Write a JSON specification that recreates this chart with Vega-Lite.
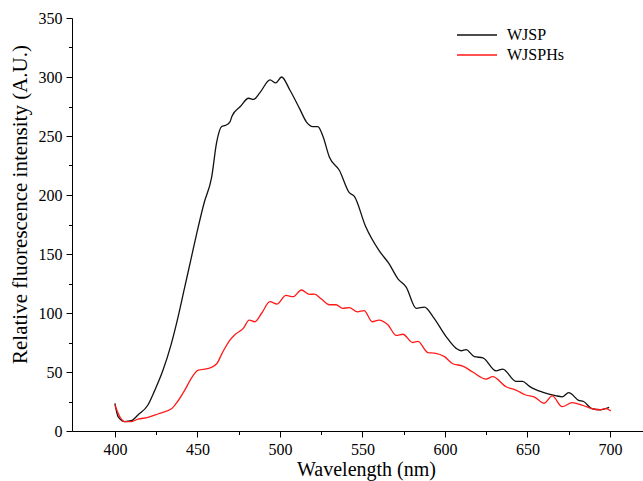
{
  "$schema": "https://vega.github.io/schema/vega-lite/v6.json",
  "width": 571,
  "height": 413,
  "autosize": "none",
  "padding": {"left": 72, "top": 18, "right": 0, "bottom": 50},
  "background": "white",
  "config": {"view": {"stroke": null}, "font": "Liberation Serif"},
  "datasets": {
    "wjsp": [
      {"w": 400, "v": 23.5}, {"w": 402, "v": 12}, {"w": 406, "v": 8}, {"w": 410, "v": 8.7}, {"w": 414, "v": 13.6},
      {"w": 420, "v": 22}, {"w": 424, "v": 34}, {"w": 429, "v": 51}, {"w": 434, "v": 73}, {"w": 438, "v": 95},
      {"w": 442, "v": 120}, {"w": 446, "v": 145}, {"w": 450, "v": 170}, {"w": 454, "v": 193}, {"w": 458.6, "v": 215},
      {"w": 461.7, "v": 245}, {"w": 464.7, "v": 258}, {"w": 467, "v": 259}, {"w": 469.7, "v": 262}, {"w": 471, "v": 267},
      {"w": 476, "v": 275}, {"w": 481, "v": 282}, {"w": 484, "v": 281}, {"w": 488, "v": 287}, {"w": 494, "v": 297.5},
      {"w": 497.5, "v": 295}, {"w": 501, "v": 300}, {"w": 506, "v": 289}, {"w": 512, "v": 273}, {"w": 516, "v": 262},
      {"w": 520, "v": 258}, {"w": 523, "v": 258}, {"w": 526, "v": 250}, {"w": 530, "v": 232}, {"w": 536, "v": 221},
      {"w": 542, "v": 202}, {"w": 545, "v": 199}, {"w": 552, "v": 173}, {"w": 560, "v": 153}, {"w": 566, "v": 142},
      {"w": 571.5, "v": 129}, {"w": 576.5, "v": 122}, {"w": 582.6, "v": 104}, {"w": 587.6, "v": 105}, {"w": 592.7, "v": 97},
      {"w": 600.7, "v": 80}, {"w": 606.8, "v": 70}, {"w": 609.8, "v": 68}, {"w": 612.8, "v": 69}, {"w": 617.8, "v": 63},
      {"w": 623, "v": 62}, {"w": 631, "v": 51}, {"w": 635, "v": 52.5}, {"w": 643, "v": 42}, {"w": 647, "v": 42},
      {"w": 651, "v": 38}, {"w": 655, "v": 35}, {"w": 659, "v": 33}, {"w": 667, "v": 30}, {"w": 671, "v": 29},
      {"w": 675, "v": 32.5}, {"w": 681, "v": 26}, {"w": 684, "v": 25}, {"w": 689, "v": 19}, {"w": 694, "v": 18},
      {"w": 699.5, "v": 20}
    ],
    "wjsphs": [
      {"w": 400, "v": 22}, {"w": 403, "v": 12}, {"w": 406, "v": 8}, {"w": 410, "v": 8}, {"w": 414, "v": 10},
      {"w": 420, "v": 11.5}, {"w": 426, "v": 14.4}, {"w": 434.5, "v": 19}, {"w": 438, "v": 25}, {"w": 442.5, "v": 35},
      {"w": 446, "v": 44}, {"w": 450.5, "v": 51.5}, {"w": 456.6, "v": 53}, {"w": 461.7, "v": 57}, {"w": 465, "v": 66},
      {"w": 469.7, "v": 77}, {"w": 473, "v": 82}, {"w": 477.8, "v": 87}, {"w": 481.4, "v": 94}, {"w": 484.8, "v": 92.6},
      {"w": 489, "v": 100}, {"w": 493.9, "v": 109.6}, {"w": 498.3, "v": 107.6}, {"w": 503.6, "v": 115}, {"w": 508, "v": 113.8},
      {"w": 513, "v": 119.5}, {"w": 518, "v": 115.8}, {"w": 521, "v": 116}, {"w": 525, "v": 112}, {"w": 530, "v": 107},
      {"w": 534, "v": 107}, {"w": 538, "v": 104}, {"w": 542, "v": 104.5}, {"w": 547, "v": 101}, {"w": 551, "v": 102},
      {"w": 556, "v": 92.6}, {"w": 560, "v": 94}, {"w": 565.4, "v": 90}, {"w": 570.5, "v": 81}, {"w": 574.5, "v": 82},
      {"w": 580.5, "v": 75}, {"w": 583.6, "v": 76}, {"w": 589.6, "v": 66.5}, {"w": 593.7, "v": 66}, {"w": 599.7, "v": 63},
      {"w": 604.7, "v": 57}, {"w": 610.8, "v": 55}, {"w": 616.8, "v": 50}, {"w": 624.9, "v": 44}, {"w": 628.9, "v": 46},
      {"w": 637, "v": 37.5}, {"w": 643, "v": 34.7}, {"w": 649, "v": 30.5}, {"w": 654, "v": 29}, {"w": 660, "v": 23.5},
      {"w": 665, "v": 29.7}, {"w": 671, "v": 20.6}, {"w": 677, "v": 24}, {"w": 683, "v": 22}, {"w": 689, "v": 19},
      {"w": 694, "v": 18}, {"w": 697.5, "v": 19}, {"w": 700.5, "v": 17}
    ]
  },
  "layer": [
    {
      "data": {"name": "wjsp"},
      "transform": [{"calculate": "'WJSP'", "as": "series"}],
      "mark": {"type": "line", "interpolate": "monotone", "strokeWidth": 1.3},
      "encoding": {
        "x": {"field": "w", "type": "quantitative"},
        "y": {"field": "v", "type": "quantitative"},
        "color": {"field": "series", "type": "nominal"}
      }
    },
    {
      "data": {"name": "wjsphs"},
      "transform": [{"calculate": "'WJSPHs'", "as": "series"}],
      "mark": {"type": "line", "interpolate": "monotone", "strokeWidth": 1.3},
      "encoding": {
        "x": {"field": "w", "type": "quantitative"},
        "y": {"field": "v", "type": "quantitative"},
        "color": {"field": "series", "type": "nominal"}
      }
    }
  ],
  "encoding": {
    "x": {
      "field": "w", "type": "quantitative",
      "scale": {"domain": [374, 720], "nice": false, "zero": false},
      "axis": {
        "title": "Wavelength (nm)",
        "values": [400, 425, 450, 475, 500, 525, 550, 575, 600, 625, 650, 675, 700],
        "labelExpr": "datum.value % 50 === 0 ? datum.label : ''",
        "tickSize": {"condition": {"test": "datum.value % 50 === 0", "value": 6}, "value": 3.5},
        "grid": false, "domainColor": "#000", "tickColor": "#000", "labelColor": "#000", "titleColor": "#000",
        "labelFont": "Liberation Serif", "labelFontSize": 16, "titleFont": "Liberation Serif", "titleFontSize": 20,
        "titleFontWeight": "normal", "labelPadding": 4, "titlePadding": 2, "titleX": 294, "titleAnchor": "middle",
        "labelFlush": false, "labelOverlap": false
      }
    },
    "y": {
      "field": "v", "type": "quantitative",
      "scale": {"domain": [0, 350], "nice": false},
      "axis": {
        "title": "Relative fluorescence intensity (A.U.)",
        "values": [0, 25, 50, 75, 100, 125, 150, 175, 200, 225, 250, 275, 300, 325, 350],
        "labelExpr": "datum.value % 50 === 0 ? datum.label : ''",
        "tickSize": {"condition": {"test": "datum.value % 50 === 0", "value": 6}, "value": 3.5},
        "grid": false, "domainColor": "#000", "tickColor": "#000", "labelColor": "#000", "titleColor": "#000",
        "labelFont": "Liberation Serif", "labelFontSize": 16, "titleFont": "Liberation Serif", "titleFontSize": 21,
        "titleFontWeight": "normal", "labelPadding": 4, "titlePadding": 8, "titleY": 186, "titleAnchor": "middle",
        "labelFlush": false, "labelOverlap": false
      }
    },
    "color": {
      "field": "series", "type": "nominal",
      "scale": {"domain": ["WJSP", "WJSPHs"], "range": ["#111111", "#ff1a1a"]},
      "legend": {
        "title": null, "orient": "none", "legendX": 397, "legendY": 9,
        "symbolType": "M-4,0H4", "symbolSize": 100, "symbolStrokeWidth": 1.3,
        "labelFont": "Liberation Serif", "labelFontSize": 16, "labelColor": "#000",
        "rowPadding": 4, "labelOffset": 22
      }
    }
  }
}
